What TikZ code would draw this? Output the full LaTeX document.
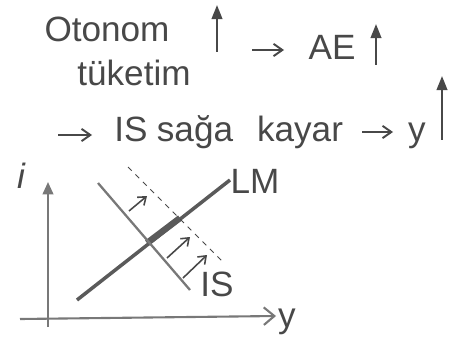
\documentclass[tikz,border=0pt]{standalone}
\usepackage{fontspec}
\setmainfont{Liberation Sans}
\usepackage{xcolor}
\usepackage{tikz}
\usetikzlibrary{arrows.meta,positioning}
\definecolor{pencil}{RGB}{72,72,72}
\definecolor{lightpencil}{RGB}{120,120,120}
\tikzset{
  hand/.style={font=\fontsize{20}{22}\selectfont, text=pencil, inner sep=0pt, anchor=base},
  arrow/.style={-{Straight Barb[length=5pt, width=7pt]}, line width=1.1pt, draw=pencil},
  uparrow/.style={-{Triangle[length=8pt, width=6pt]}, line width=1.3pt, draw=pencil},
  smallarrow/.style={-{Straight Barb[length=4pt, width=6pt]}, line width=0.9pt, draw=pencil},
  axis/.style={line width=1.2pt, draw=lightpencil},
  lmline/.style={line width=2pt, draw=pencil!90},
  isline/.style={line width=1.3pt, draw=lightpencil},
  shifted/.style={line width=0.6pt, draw=pencil, dashed},
}

\begin{document}
\begin{tikzpicture}[x=0.02cm, y=-0.02cm]
  \useasboundingbox (0,0) rectangle (455,347);

  % first line
  \node[hand] (otonom) at (107,42) {Otonom};
  \node[hand] (tuketim) at (134,86) {tüketim};
  \coordinate (up1s) at (217,52);
  \coordinate (up1e) at (217,5);
  \draw[uparrow] (up1s) -- (up1e);
  \coordinate (ar1s) at (252,50);
  \coordinate (ar1e) at (284,50);
  \draw[arrow] (ar1s) -- (ar1e);
  \node[hand] (ae) at (332,60) {AE};
  \coordinate (up2s) at (376,65);
  \coordinate (up2e) at (376,24);
  \draw[uparrow] (up2s) -- (up2e);

  % second line
  \coordinate (ar2s) at (58,135);
  \coordinate (ar2e) at (92,135);
  \draw[arrow] (ar2s) -- (ar2e);
  \node[hand] (is) at (131,142) {IS};
  \node[hand] (saga) at (195,142) {sağa};
  \node[hand] (kayar) at (300,142) {kayar};
  \coordinate (ar3s) at (362,132);
  \coordinate (ar3e) at (393,132);
  \draw[arrow] (ar3s) -- (ar3e);
  \node[hand] (yy) at (417,142) {y};
  \coordinate (up3s) at (442,140);
  \coordinate (up3e) at (442,76);
  \draw[uparrow] (up3s) -- (up3e);

  % axes
  \coordinate (orig) at (48,320);
  \coordinate (ytop) at (48,182);
  \coordinate (ybot) at (48,327);
  \coordinate (xleft) at (20,319);
  \coordinate (xright) at (276,316);
  \draw[axis, -{Triangle[length=7pt, width=6pt]}] (ybot) -- (ytop);
  \draw[axis, -{Straight Barb[length=6pt, width=10pt]}] (xleft) -- (xright);
  \node[hand, anchor=center] (ilab) at (21,176) {\itshape i};
  \node[hand, anchor=center] (ylab) at (287,322) {y};

  % LM and IS
  \coordinate (lm1) at (77,300);
  \coordinate (lm2) at (230,180);
  \coordinate (lmA) at (147,243);
  \coordinate (lmB) at (180,218);
  \draw[lmline] (lm1) -- (lm2);
  \draw[lmline, line width=3.6pt] (lmA) -- (lmB);
  \node[hand, anchor=center] (lm) at (255,181) {LM};

  \coordinate (is1) at (98,183);
  \coordinate (is2) at (190,290);
  \draw[isline] (is1) -- (is2);
  \node[hand, anchor=center] (islab) at (217,284) {IS};

  \coordinate (isd1) at (128,167);
  \coordinate (isd2) at (223,262);
  \draw[shifted] (isd1) -- (isd2);

  % shift arrows
  \coordinate (s1a) at (129,211);
  \coordinate (s1b) at (147,196);
  \coordinate (s2a) at (167,258);
  \coordinate (s2b) at (190,237);
  \coordinate (s3a) at (183,278);
  \coordinate (s3b) at (207,255);
  \draw[smallarrow] (s1a) -- (s1b);
  \draw[smallarrow] (s2a) -- (s2b);
  \draw[smallarrow] (s3a) -- (s3b);
\end{tikzpicture}
\end{document}
